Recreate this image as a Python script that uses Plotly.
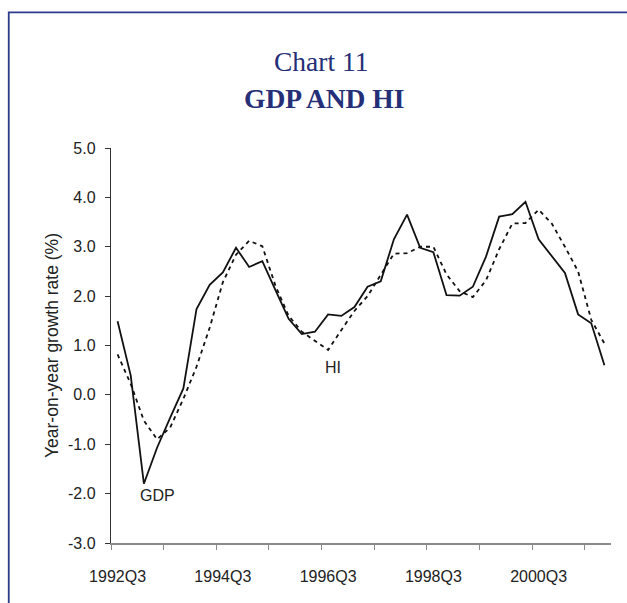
import plotly.graph_objects as go

quarters = []
for y in range(1992, 2002):
    for q in range(1, 5):
        quarters.append(f"{y}Q{q}")
quarters = quarters[2:]  # 1992Q3 .. 2001Q4 (38 quarters)

gdp = [1.49, 0.39, -1.80, -1.07, -0.46, 0.13, 1.74, 2.23, 2.48, 2.98,
       2.59, 2.71, 2.12, 1.54, 1.23, 1.28, 1.63, 1.60, 1.78, 2.19,
       2.30, 3.15, 3.65, 2.98, 2.89, 2.02, 2.01, 2.19, 2.80, 3.61,
       3.66, 3.91, 3.15, 2.82, 2.47, 1.63, 1.45, 0.60]
hi = [0.82, 0.22, -0.52, -0.90, -0.66, -0.08, 0.57, 1.36, 2.28, 2.84,
      3.12, 3.01, 2.21, 1.60, 1.28, 1.10, 0.91, 1.31, 1.70, 2.00,
      2.44, 2.86, 2.87, 3.00, 3.00, 2.44, 2.10, 1.98, 2.32, 2.95,
      3.47, 3.48, 3.75, 3.47, 3.00, 2.50, 1.52, 1.04]

y_ticks = [5.0, 4.0, 3.0, 2.0, 1.0, 0.0, -1.0, -2.0, -3.0]
x_label_idx = [0, 8, 16, 24, 32]

x = list(range(len(quarters)))

fig = go.Figure()
fig.add_trace(go.Scatter(x=x, y=gdp, mode="lines", name="GDP",
                         line=dict(color="#111111", width=1.8)))
fig.add_trace(go.Scatter(x=x, y=hi, mode="lines", name="HI",
                         line=dict(color="#111111", width=1.8, dash="4px,4px")))

font_axis = dict(family="Liberation Sans, Arial, sans-serif", size=16, color="#222222")

fig.update_layout(
    width=627, height=603,
    margin=dict(l=111, r=16, t=148, b=60),
    paper_bgcolor="white", plot_bgcolor="white",
    showlegend=False,
    font=font_axis,
)
fig.update_xaxes(
    range=[-0.5, len(quarters) - 0.5],
    tickmode="array",
    tickvals=x_label_idx,
    ticktext=[quarters[i] for i in x_label_idx],
    ticks="outside", ticklen=0,
    ticklabelstandoff=18,
    minor=dict(ticks="outside", tick0=-0.5, dtick=4, ticklen=5,
               tickcolor="#8a8a8a", tickwidth=1.2, showgrid=False),
    showline=True, linecolor="#8a8a8a", linewidth=1.6,
    showgrid=False, zeroline=False,
    tickfont=font_axis,
)
fig.update_yaxes(
    range=[-3.0, 5.0],
    tickmode="array",
    tickvals=y_ticks,
    ticktext=[f"{v:.1f}" for v in y_ticks],
    ticks="outside", ticklen=5, tickcolor="#333333", tickwidth=1.2,
    ticklabelstandoff=6,
    showline=True, linecolor="#333333", linewidth=1.4,
    showgrid=False, zeroline=False,
    tickfont=font_axis,
    title=dict(text="Year-on-year growth rate (%)",
               font=dict(family="Liberation Sans, Arial, sans-serif", size=17.5, color="#222222"),
               standoff=4),
)

navy = "#252f78"
# frame
fig.add_shape(type="path", xref="paper", yref="paper",
              path="M -0.2045 -0.2 L -0.2045 1.3435 L 1.1 1.3435",
              line=dict(color="#2e3a8c", width=1.8))

fig.add_annotation(text="Chart 11", xref="paper", yref="paper",
                   x=(320.5 - 111) / 500, y=(543 - 61.5) / 395,
                   showarrow=False, xanchor="center", yanchor="middle",
                   font=dict(family="Liberation Serif, Times New Roman, serif", size=27.5, color=navy))
fig.add_annotation(text="<b>GDP AND HI</b>", xref="paper", yref="paper",
                   x=(324 - 111) / 500, y=(543 - 98.5) / 395,
                   showarrow=False, xanchor="center", yanchor="middle",
                   font=dict(family="Liberation Serif, Times New Roman, serif", size=27.5, color=navy))

fig.add_annotation(text="GDP", x=3.0, y=-2.03, showarrow=False,
                   xanchor="center", yanchor="middle", font=font_axis)
fig.add_annotation(text="HI", x=16.4, y=0.56, showarrow=False,
                   xanchor="center", yanchor="middle", font=font_axis)

fig.write_html("out.html", config={"displayModeBar": False},
               post_script="document.body.style.margin='0';")
